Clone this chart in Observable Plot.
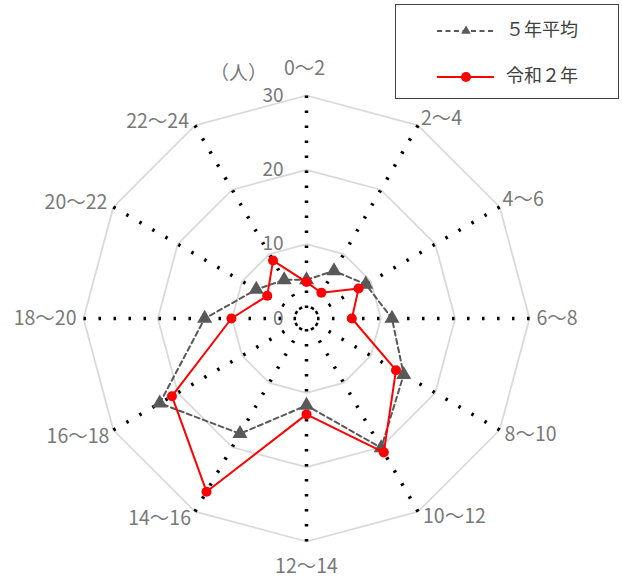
<!DOCTYPE html>
<html><head><meta charset="utf-8">
<script src="https://cdn.jsdelivr.net/npm/d3@7"></script>
<script src="https://cdn.jsdelivr.net/npm/@observablehq/plot@0.6"></script>
<style>
body{margin:0;background:#fff;font-family:"Noto Sans CJK JP",sans-serif;}
#wrap{position:relative;width:622px;height:578px;}
#legend{position:absolute;left:395px;top:4px;width:224px;height:95px;border:1.5px solid #404040;box-sizing:border-box;background:#fff;}
</style></head><body><div id="wrap"></div>
<script>
const categories = ["0～2","2～4","4～6","6～8","8～10","10～12","12～14","14～16","16～18","18～20","20～22","22～24"];
const avg5 = [5.2, 7.4, 9.2, 11.5, 15.1, 20.1, 11.7, 17.9, 22.8, 13.7, 7.8, 6.0];
const reiwa2 = [4.9, 4.0, 8.1, 6.1, 13.9, 20.8, 12.9, 26.9, 20.9, 10.1, 6.1, 9.0];
const ringTicks = [0, 10, 20, 30];
const seriesNames = ["５年平均", "令和２年"];
const unitLabel = "（人）";

const deg = Math.PI / 180;
const ang = i => i * 360 / categories.length * deg;
const pt = (v, i) => ({x: v * Math.sin(ang(i)), y: v * Math.cos(ang(i))});
const maxT = d3.max(ringTicks);
const grid = ringTicks.filter(t => t > 0).flatMap(t => categories.map((c, i) => ({t, ...pt(t, i)})));
const spokes = categories.map((c, i) => ({c, i, ...pt(maxT, i)}));
const avgPts = avg5.map((v, i) => ({v, ...pt(v, i)}));
const r2Pts = reiwa2.map((v, i) => ({v, ...pt(v, i)}));

const labelGroups = [
  {idx: [0], anchor: "middle", dx: -2, dy: -27},
  {idx: [1, 2], anchor: "start", dx: 3, dy: -7},
  {idx: [3], anchor: "start", dx: 7, dy: 0},
  {idx: [4, 5], anchor: "start", dx: 5, dy: 5},
  {idx: [6], anchor: "middle", dx: 0, dy: 25},
  {idx: [7, 8], anchor: "end", dx: -4, dy: 7},
  {idx: [9], anchor: "end", dx: -7, dy: 0},
  {idx: [10, 11], anchor: "end", dx: -6, dy: -4}
];

const chart = Plot.plot({
  width: 622, height: 578, margin: 0,
  style: {fontFamily: '"Noto Sans CJK JP", sans-serif', background: "#fff"},
  x: {domain: [-30, 30], range: [306 - 223, 306 + 223], axis: null},
  y: {domain: [-30, 30], range: [318 + 223, 318 - 223], axis: null},
  marks: [
    Plot.line(grid, {x: "x", y: "y", z: "t", curve: "linear-closed", stroke: "#d9d9d9", strokeWidth: 1.75}),
    Plot.link(spokes, {x1: "x", y1: "y", x2: () => 0, y2: () => 0, stroke: "#000", strokeWidth: 3.5, strokeDasharray: "2.5,12.5"}),
    Plot.text(ringTicks, {x: () => 0, y: d => d, text: d => String(d), textAnchor: "end", dx: -23, fontSize: 19, fill: "#787878"}),
    Plot.text([unitLabel], {x: () => 0, y: () => maxT, text: d => d, dx: -68, dy: -22, fontSize: 19, fill: "#787878"}),
    Plot.line(avgPts, {x: "x", y: "y", curve: "linear-closed", stroke: "#595959", strokeWidth: 2, strokeDasharray: "5,3.5"}),
    Plot.dot(avgPts, {x: "x", y: "y", symbol: "triangle", r: 5.6, fill: "#595959"}),
    Plot.line(r2Pts, {x: "x", y: "y", curve: "linear-closed", stroke: "#ff0000", strokeWidth: 2}),
    Plot.dot(r2Pts, {x: "x", y: "y", r: 5, fill: "#ff0000"}),
    ...labelGroups.map(g => Plot.text(spokes.filter(s => g.idx.includes(s.i)), {
      x: "x", y: "y", text: "c", textAnchor: g.anchor, dx: g.dx, dy: g.dy, fontSize: 19.5, fill: "#787878"
    }))
  ]
});
const wrap = document.getElementById("wrap");
wrap.appendChild(chart);

// legend
const leg = document.createElement("div");
leg.id = "legend";
wrap.appendChild(leg);
const ls = d3.select(leg).append("svg").attr("width", 221).attr("height", 92).style("display", "block");
const rows = [
  {name: seriesNames[0], y: 26, stroke: "#595959", dash: "5,3.5", sym: d3.symbolTriangle, size: 40},
  {name: seriesNames[1], y: 72, stroke: "#ff0000", dash: null, sym: d3.symbolCircle, size: 80}
];
rows.forEach(r => {
  ls.append("line").attr("x1", 41).attr("x2", 98).attr("y1", r.y).attr("y2", r.y)
    .attr("stroke", r.stroke).attr("stroke-width", 2).attr("stroke-dasharray", r.dash);
  ls.append("path").attr("d", d3.symbol(r.sym, r.size)()).attr("transform", `translate(70,${r.y})`).attr("fill", r.stroke);
  ls.append("text").attr("x", 110).attr("y", r.y).attr("dominant-baseline", "middle")
    .attr("font-size", 18).attr("fill", "#404040").attr("font-family", '"Noto Sans CJK JP", sans-serif').text(r.name);
});
</script></body></html>
